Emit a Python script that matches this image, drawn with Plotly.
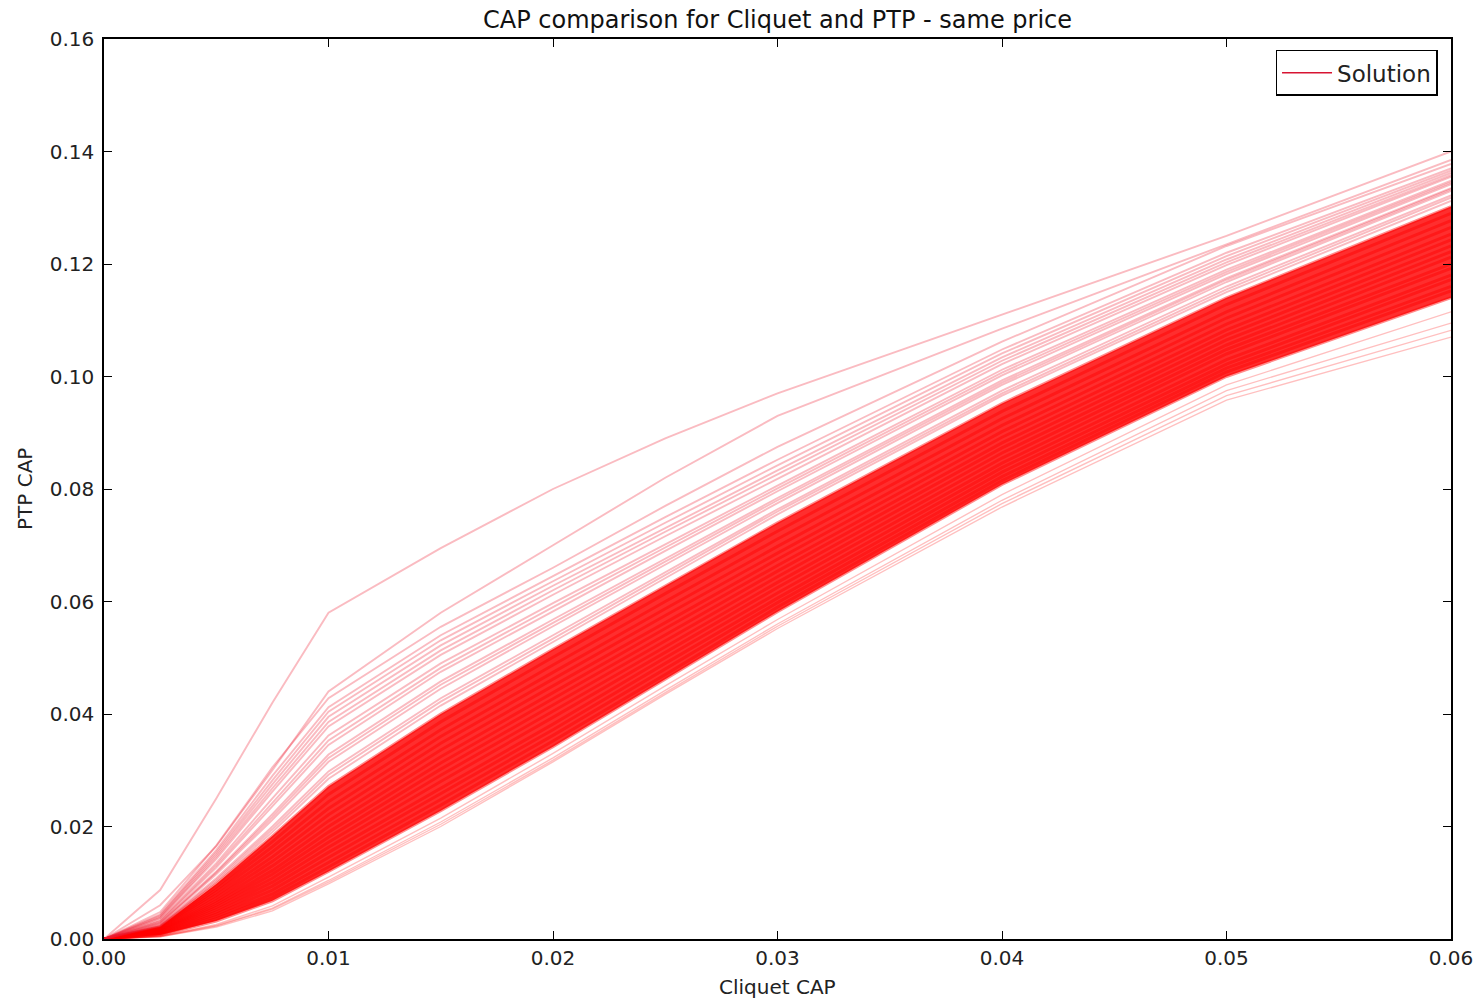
import plotly.graph_objects as go

# Cliquet cap grid shared by every solution path
cliquet_cap = [0, 0.0025, 0.005, 0.0075, 0.01, 0.015, 0.02, 0.025, 0.03, 0.04, 0.05, 0.06]

# Paths below the main bundle
ptp_lower = [
    [0, .0004, .0021, .0050, .0098, .0200, .0315, .0435, .0552, .0768, .0958, .1070],
    [0, .0004, .0023, .0053, .0101, .0204, .0318, .0438, .0556, .0774, .0966, .1082],
    [0, .0005, .0024, .0055, .0104, .0208, .0322, .0442, .0560, .0780, .0975, .1095],
    [0, .0005, .0026, .0059, .0110, .0215, .0330, .0450, .0568, .0790, .0985, .1115],
]

# Dense bundle of paths
ptp_core = [
    [0, .0007, .0032, .0068, .0120, .0228, .0342, .0462, .0582, .0808, .1000, .1140],
    [0, .0008, .0036, .0074, .0128, .0238, .0352, .0470, .0590, .0815, .1008, .1152],
    [0, .0009, .0040, .0080, .0136, .0248, .0362, .0480, .0598, .0822, .1015, .1160],
    [0, .0010, .0044, .0087, .0145, .0258, .0372, .0490, .0606, .0830, .1022, .1172],
    [0, .0011, .0048, .0094, .0154, .0268, .0382, .0500, .0615, .0838, .1030, .1180],
    [0, .0012, .0052, .0101, .0163, .0280, .0394, .0510, .0625, .0846, .1040, .1192],
    [0, .0013, .0056, .0108, .0172, .0291, .0405, .0520, .0634, .0855, .1048, .1200],
    [0, .0014, .0060, .0115, .0181, .0302, .0416, .0530, .0644, .0864, .1056, .1212],
    [0, .0015, .0064, .0122, .0190, .0313, .0427, .0541, .0654, .0873, .1065, .1222],
    [0, .0016, .0068, .0130, .0200, .0324, .0438, .0552, .0664, .0882, .1074, .1232],
    [0, .0017, .0073, .0138, .0210, .0336, .0450, .0563, .0675, .0892, .1083, .1243],
    [0, .0018, .0078, .0146, .0221, .0348, .0462, .0575, .0686, .0902, .1093, .1253],
    [0, .0019, .0083, .0155, .0232, .0360, .0474, .0587, .0698, .0913, .1104, .1265],
    [0, .0020, .0088, .0164, .0244, .0372, .0487, .0600, .0711, .0925, .1115, .1277],
    [0, .0021, .0093, .0173, .0257, .0386, .0501, .0614, .0725, .0938, .1128, .1290],
    [0, .0022, .0098, .0183, .0271, .0400, .0515, .0628, .0740, .0952, .1140, .1302],
]

# Sparser paths above the bundle
ptp_upper = [
    [0, .0023, .0102, .0190, .0285, .0415, .0528, .0642, .0755, .0966, .1150, .1312],
    [0, .0024, .0105, .0195, .0292, .0422, .0534, .0647, .0760, .0970, .1155, .1318],
    [0, .0025, .0108, .0200, .0298, .0428, .0540, .0652, .0764, .0975, .1160, .1322],
    [0, .0027, .0115, .0212, .0315, .0445, .0556, .0665, .0775, .0985, .1168, .1330],
    [0, .0028, .0118, .0217, .0322, .0452, .0562, .0671, .0780, .0989, .1172, .1333],
    [0, .0029, .0120, .0222, .0328, .0458, .0568, .0676, .0784, .0993, .1175, .1335],
    [0, .0031, .0127, .0236, .0345, .0475, .0583, .0690, .0796, .1002, .1182, .1342],
    [0, .0032, .0131, .0243, .0353, .0482, .0590, .0696, .0801, .1007, .1186, .1345],
    [0, .0034, .0135, .0250, .0362, .0490, .0597, .0702, .0806, .1012, .1190, .1348],
    [0, .0037, .0142, .0262, .0378, .0505, .0612, .0716, .0818, .1022, .1198, .1355],
    [0, .0038, .0146, .0268, .0386, .0513, .0620, .0724, .0826, .1028, .1203, .1358],
    [0, .0040, .0150, .0275, .0395, .0522, .0628, .0731, .0833, .1034, .1208, .1362],
    [0, .0042, .0154, .0282, .0404, .0531, .0636, .0740, .0842, .1041, .1214, .1366],
    [0, .0044, .0158, .0290, .0412, .0540, .0645, .0750, .0852, .1048, .1220, .1370],
    [0, .0048, .0166, .0305, .0428, .0555, .0660, .0770, .0875, .1062, .1232, .1378],
    [0, .0060, .0165, .0300, .0440, .0580, .0700, .0820, .0930, .1085, .1235, .1385],
    [0, .0087, .0250, .0420, .0580, .0695, .0800, .0890, .0970, .1110, .1250, .1400],
]

x_ticks = [0.00, 0.01, 0.02, 0.03, 0.04, 0.05, 0.06]
y_ticks = [0.00, 0.02, 0.04, 0.06, 0.08, 0.10, 0.12, 0.14, 0.16]

FONT = "DejaVu Sans"
fig = go.Figure()

# saturated body of the bundle, between its lowest and highest dense path
fig.add_trace(go.Scatter(x=cliquet_cap, y=ptp_core[0], mode="lines",
                         line=dict(width=0), showlegend=False, hoverinfo="skip"))
fig.add_trace(go.Scatter(x=cliquet_cap, y=ptp_core[-1], mode="lines",
                         line=dict(width=0), fill="tonexty",
                         fillcolor="rgba(255,0,0,0.82)", showlegend=False, hoverinfo="skip"))

for path in ptp_lower:
    fig.add_trace(go.Scatter(x=cliquet_cap, y=path, mode="lines",
                             line=dict(color="rgba(255,0,0,0.25)", width=1.4),
                             showlegend=False, hoverinfo="skip"))
for path in ptp_core:
    fig.add_trace(go.Scatter(x=cliquet_cap, y=path, mode="lines",
                             line=dict(color="rgba(255,0,0,0.45)", width=3),
                             showlegend=False, hoverinfo="skip"))
for path in ptp_upper:
    fig.add_trace(go.Scatter(x=cliquet_cap, y=path, mode="lines",
                             line=dict(color="rgba(240,30,50,0.3)", width=1.9),
                             showlegend=False, hoverinfo="skip"))

# legend entry
fig.add_trace(go.Scatter(x=[None], y=[None], mode="lines", name="Solution",
                         line=dict(color="rgb(215,20,50)", width=1.5)))

axis_common = dict(showline=True, linecolor="black", linewidth=1.5, mirror="ticks",
                   ticks="inside", ticklen=8, tickwidth=1, tickcolor="black",
                   showgrid=False, zeroline=False, automargin=False,
                   tickfont=dict(family=FONT, size=20, color="#222"))

fig.update_layout(
    width=1482, height=1001,
    margin=dict(l=104, r=31, t=39, b=62),
    paper_bgcolor="white", plot_bgcolor="white",
    title=dict(text="CAP comparison for Cliquet and PTP - same price",
               font=dict(family=FONT, size=24, color="#111"),
               x=0.5, xref="paper", xanchor="center", y=0.98, yanchor="middle"),
    xaxis=dict(range=[0, 0.06], tickvals=x_ticks, tickformat=".2f", **axis_common),
    yaxis=dict(range=[0, 0.16], tickvals=y_ticks, tickformat=".2f", ticklabelstandoff=4,
               **axis_common),
    legend=dict(x=0.99, y=0.988, xanchor="right", yanchor="top",
                bordercolor="black", borderwidth=1.5, bgcolor="white", itemwidth=50,
                font=dict(family=FONT, size=23, color="#222")),
    hovermode=False,
)

# axis titles
fig.add_annotation(text="Cliquet CAP", xref="paper", yref="paper", x=0.5, y=0,
                   xanchor="center", yanchor="middle", yshift=-48, showarrow=False,
                   font=dict(family=FONT, size=20, color="#222"))
fig.add_annotation(text="PTP CAP", xref="paper", yref="paper", x=0, y=0.5,
                   xanchor="center", yanchor="middle", xshift=-79, textangle=-90,
                   showarrow=False, font=dict(family=FONT, size=20, color="#222"))

fig.write_html("out.html")
